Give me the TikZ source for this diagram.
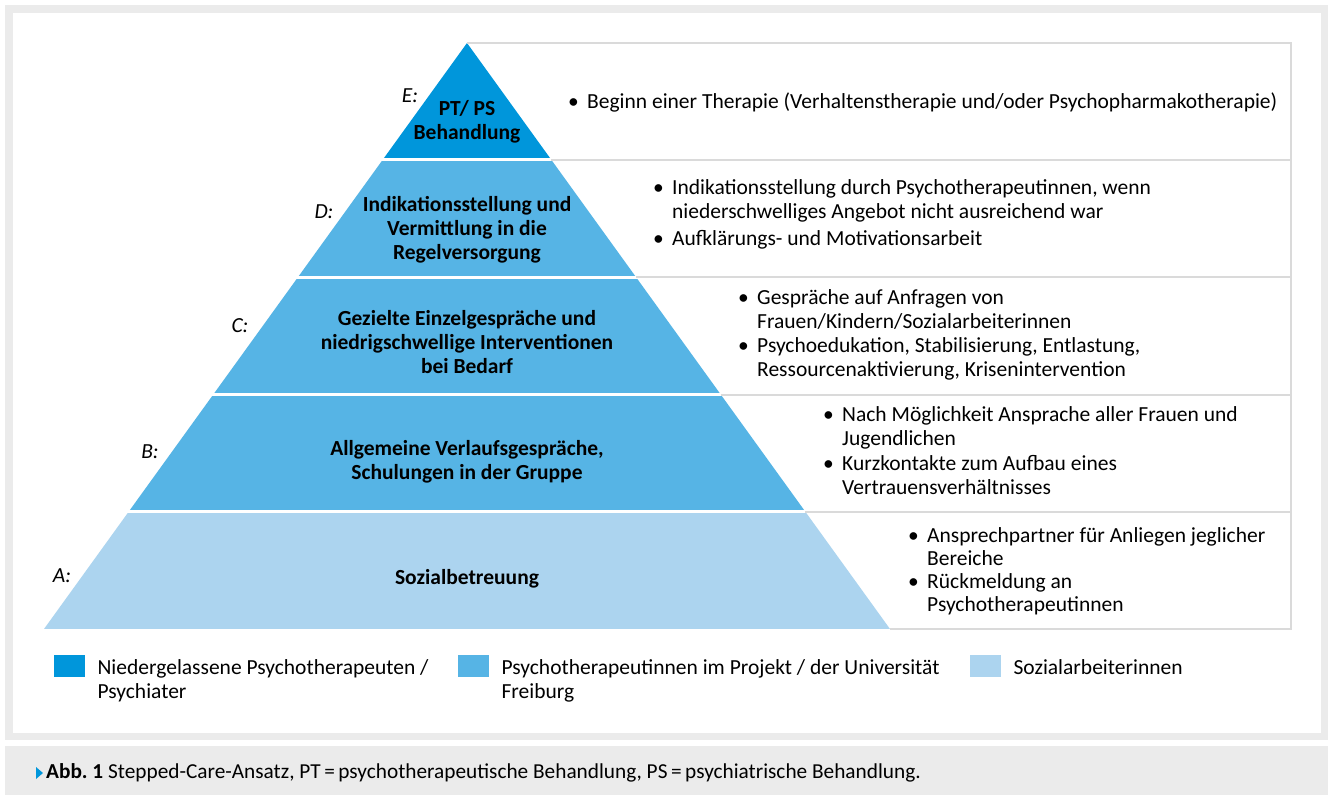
\documentclass[tikz,border=0pt]{standalone}
\usepackage{fontspec}
\setmainfont{Carlito}
\usepackage{xcolor}
\usetikzlibrary{positioning}
\definecolor{stepdark}{RGB}{0,150,219}
\definecolor{stepmid}{RGB}{86,180,229}
\definecolor{steplight}{RGB}{172,212,239}
\definecolor{framegray}{RGB}{235,235,235}
\definecolor{linegray}{RGB}{218,218,218}
\frenchspacing
\tikzset{>=stealth,
    bandtext/.style={font=\fontsize{21.5}{24}\selectfont\bfseries, align=center, inner sep=0pt},
    levellabel/.style={font=\fontsize{21.5}{24}\selectfont\itshape, inner sep=0pt},
    desc/.style={font=\fontsize{21.5}{24}\selectfont\raggedright, text width=760pt, inner sep=0pt, anchor=north west},
    tableline/.style={draw=linegray, line width=2pt},
    legendbox/.style={minimum width=31pt, minimum height=22pt, inner sep=0pt, anchor=north west},
    legendtext/.style={font=\fontsize{21.5}{24}\selectfont, align=left, inner sep=0pt, anchor=north west},
}
\newcommand{\bitem}[1]{\par\spaceskip=0pt\xspaceskip=0pt\hangindent=19pt\hangafter=1\noindent\makebox[19pt][l]{\textbullet}\strut#1\par}

\begin{document}
\begin{tikzpicture}[x=1pt,y=-1pt]
    \useasboundingbox (0,0) rectangle (1330,795);
    % frame and caption band
    \fill[framegray] (5,5) rectangle (1328,740);
    \fill[white] (13,13) rectangle (1321,733);
    \fill[framegray] (5,746) rectangle (1328,795);
    % pyramid
    \begin{scope}
        \clip (467,43) -- (890,629) -- (44,629) -- cycle;
        \fill[stepdark] (0,40) rectangle (1330,158);
        \fill[stepmid] (0,161) rectangle (1330,275.5);
        \fill[stepmid] (0,278.5) rectangle (1330,393);
        \fill[stepmid] (0,396) rectangle (1330,510);
        \fill[steplight] (0,513) rectangle (1330,629);
    \end{scope}
    % table on the right
    \draw[tableline] (467,43) -- (1291,43) -- (1291,629) -- (890,629);
    \foreach \y/\x in {159.5/551, 277/636, 394.5/720.5, 511.5/805}
        \draw[tableline] (\x,\y) -- (1291,\y);
    % levels
    \node[bandtext] (bandE) at (467,122) {PT/ PS\\Behandlung};
    \node[bandtext] (bandD) at (467,230) {Indikationsstellung und\\Vermittlung in die\\Regelversorgung};
    \node[bandtext] (bandC) at (467,342) {Gezielte Einzelgespräche und\\niedrigschwellige Interventionen\\bei Bedarf};
    \node[bandtext] (bandB) at (467,462) {Allgemeine Verlaufsgespräche,\\Schulungen in der Gruppe};
    \node[bandtext] (bandA) at (467,579) {Sozialbetreuung};
    \node[levellabel] (labE) at (410,96) {E:};
    \node[levellabel] (labD) at (324,212) {D:};
    \node[levellabel] (labC) at (240,326) {C:};
    \node[levellabel] (labB) at (150,452) {B:};
    \node[levellabel] (labA) at (62,576) {A:};
    % descriptions
    \node[desc] (descE) at (568,84) {\bitem{Beginn einer Therapie (Verhaltenstherapie und/oder Psychopharmakotherapie)}};
    \node[desc] (descD) at (653,170) {\bitem{Indikationsstellung durch Psychotherapeutinnen, wenn\newline niederschwelliges Angebot nicht ausreichend war}\vspace{3pt}\bitem{Aufklärungs- und Motivationsarbeit}};
    \node[desc] (descC) at (738,280) {\bitem{Gespräche auf Anfragen von\newline Frauen/Kindern/Sozialarbeiterinnen}\bitem{Psychoedukation, Stabilisierung, Entlastung,\newline Ressourcenaktivierung, Krisenintervention}};
    \node[desc] (descB) at (823,397) {\bitem{Nach Möglichkeit Ansprache aller Frauen und\newline Jugendlichen}\vspace{1pt}\bitem{Kurzkontakte zum Aufbau eines\newline Vertrauensverhältnisses}};
    \node[desc, font=\fontsize{21.5}{23}\selectfont\raggedright] (descA) at (908,519) {\bitem{Ansprechpartner für Anliegen jeglicher\newline Bereiche}\bitem{Rückmeldung an\newline Psychotherapeutinnen}};
    % legend
    \node[legendbox, fill=stepdark] (keyE) at (54,655) {};
    \node[legendtext, right=12pt of keyE.north east, anchor=north west, yshift=-4pt] (keyEtext) {Niedergelassene Psychotherapeuten /\\Psychiater};
    \node[legendbox, fill=stepmid] (keyM) at (458,655) {};
    \node[legendtext, right=12pt of keyM.north east, anchor=north west, yshift=-4pt] (keyMtext) {Psychotherapeutinnen im Projekt / der Universität\\Freiburg};
    \node[legendbox, fill=steplight] (keyL) at (970,655) {};
    \node[legendtext, right=12pt of keyL.north east, anchor=north west, yshift=-4pt] (keyLtext) {Sozialarbeiterinnen};
    % caption
    \fill[stepdark] (36,767) -- (43,773) -- (36,779) -- cycle;
    \node[font=\fontsize{21.3}{24}\selectfont, inner sep=0pt, anchor=west] (caption) at (46,773) {\textbf{Abb. 1} Stepped-Care-Ansatz, PT\,=\,psychotherapeutische Behandlung, PS\,=\,psychiatrische Behandlung.};
\end{tikzpicture}
\end{document}
